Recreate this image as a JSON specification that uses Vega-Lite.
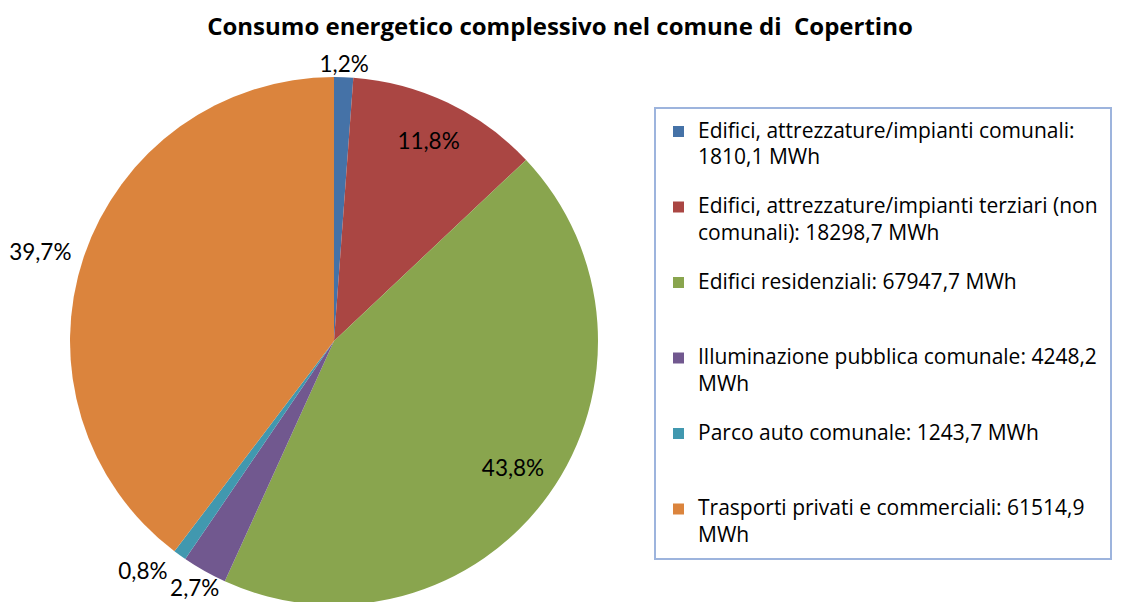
{
  "$schema": "https://vega.github.io/schema/vega-lite/v6.json",
  "width": 668,
  "height": 522,
  "autosize": {"type": "none"},
  "padding": {"left": 0, "top": 80, "right": 453, "bottom": 0},
  "background": "white",
  "title": {
    "text": "Consumo energetico complessivo nel comune di \u00a0Copertino",
    "font": "Open Sans", "fontSize": 24, "fontWeight": "bold", "color": "#000000",
    "anchor": "middle", "dx": 226, "offset": 5
  },
  "data": {
    "values": [
      {"n": 1, "cat": "Edifici, attrezzature/impianti comunali:|1810,1 MWh", "value": 1810.1, "pct": "1,2%"},
      {"n": 2, "cat": "Edifici, attrezzature/impianti terziari (non|comunali): 18298,7 MWh", "value": 18298.7, "pct": "11,8%"},
      {"n": 3, "cat": "Edifici residenziali: 67947,7 MWh", "value": 67947.7, "pct": "43,8%"},
      {"n": 4, "cat": "Illuminazione pubblica comunale: 4248,2|MWh", "value": 4248.2, "pct": "2,7%"},
      {"n": 5, "cat": "Parco auto comunale: 1243,7 MWh", "value": 1243.7, "pct": "0,8%"},
      {"n": 6, "cat": "Trasporti privati e commerciali: 61514,9|MWh", "value": 61514.9, "pct": "39,7%"}
    ]
  },
  "encoding": {
    "theta": {"field": "value", "type": "quantitative", "stack": true},
    "order": {"field": "n", "type": "quantitative"}
  },
  "layer": [
    {
      "mark": {"type": "arc", "outerRadius": 264},
      "encoding": {
        "color": {
          "field": "cat", "type": "nominal",
          "scale": {
            "domain": [
              "Edifici, attrezzature/impianti comunali:|1810,1 MWh",
              "Edifici, attrezzature/impianti terziari (non|comunali): 18298,7 MWh",
              "Edifici residenziali: 67947,7 MWh",
              "Illuminazione pubblica comunale: 4248,2|MWh",
              "Parco auto comunale: 1243,7 MWh",
              "Trasporti privati e commerciali: 61514,9|MWh"
            ],
            "range": ["#4572A7", "#AA4643", "#89A54E", "#71588F", "#4198AF", "#DB843D"]
          },
          "legend": {
            "orient": "none", "legendX": 655, "legendY": 28, "direction": "vertical", "title": null,
            "symbolType": "square", "symbolSize": 121, "symbolStrokeWidth": 0, "symbolOpacity": 1,
            "labelFont": "Open Sans", "labelFontSize": 21, "labelColor": "#000000", "labelLimit": 600, "labelOffset": 9,
            "labelExpr": "split(datum.label, '|')",
            "labelBaseline": "middle",
            "gridAlign": "all", "rowPadding": 27.5,
            "padding": 13, "strokeColor": "#9DB4DD", "cornerRadius": 0, "fillColor": "white",
            "encode": {
              "labels": {"update": {"lineHeight": {"value": 26.5}}},
              "legend": {"update": {"strokeWidth": {"value": 2}}}
            }
          }
        }
      }
    },
    {
      "mark": {"type": "text", "radius": 220, "font": "Lato", "fontSize": 22.5, "color": "#000000", "align": "center", "baseline": "middle"},
      "encoding": {
        "text": {"condition": {"test": "datum.n == 2 || datum.n == 3", "field": "pct"}, "value": ""}
      }
    },
    {
      "mark": {"type": "text", "radius": 276, "font": "Lato", "fontSize": 22.5, "color": "#000000", "align": "center", "baseline": "middle"},
      "encoding": {
        "text": {"condition": {"test": "datum.n == 1", "field": "pct"}, "value": ""}
      }
    },
    {
      "mark": {"type": "text", "radius": 284, "font": "Lato", "fontSize": 22.5, "color": "#000000", "align": "center", "baseline": "middle"},
      "encoding": {
        "text": {"condition": {"test": "datum.n == 4", "field": "pct"}, "value": ""}
      }
    },
    {
      "mark": {"type": "text", "radius": 285, "font": "Lato", "fontSize": 22.5, "color": "#000000", "align": "right", "baseline": "middle"},
      "encoding": {
        "text": {"condition": {"test": "datum.n == 5", "field": "pct"}, "value": ""}
      }
    },
    {
      "mark": {"type": "text", "radius": 277, "font": "Lato", "fontSize": 22.5, "color": "#000000", "align": "right", "baseline": "middle"},
      "encoding": {
        "text": {"condition": {"test": "datum.n == 6", "field": "pct"}, "value": ""}
      }
    }
  ],
  "config": {"view": {"stroke": null}}
}
